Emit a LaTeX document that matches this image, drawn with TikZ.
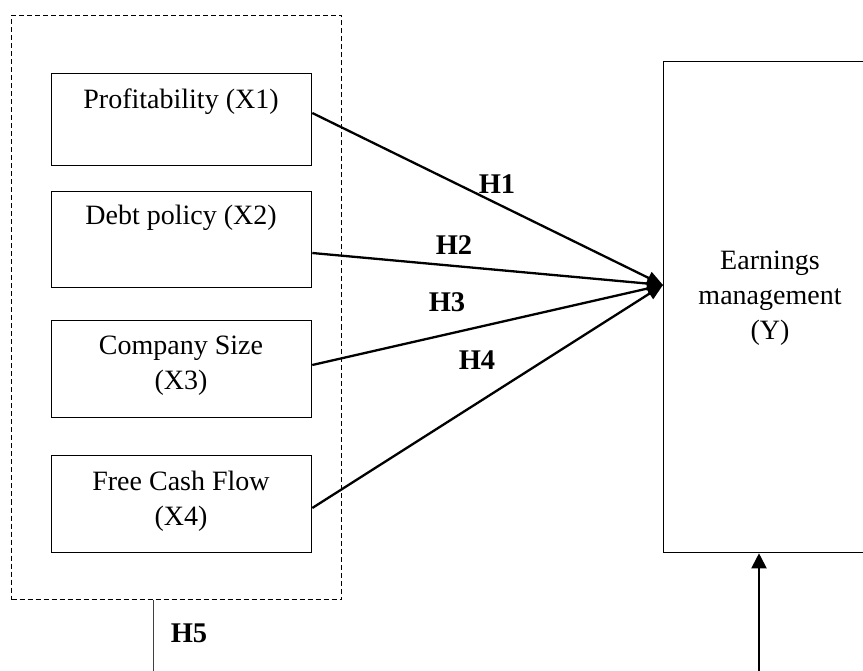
\documentclass[tikz,border=0pt]{standalone}
\usepackage{fontspec}
\setmainfont{Liberation Serif}
\usetikzlibrary{arrows.meta}
\begin{document}
\begin{tikzpicture}[x=1pt,y=-1pt,
  box/.style={draw, line width=1.3pt, minimum width=260pt, inner sep=0pt, anchor=north west},
  txt/.style={font=\fontsize{28}{35}\selectfont, align=center, inner sep=0pt},
  hyp/.style={font=\fontsize{28.5}{32}\selectfont\bfseries, inner sep=0pt},
  conn/.style={line width=2.3pt, -{Triangle[length=16pt,width=13pt]}},
]
\clip (0,0) rectangle (863,671);
\node[draw, dash pattern=on 5pt off 3pt, line width=1pt, minimum width=330pt, minimum height=584pt, inner sep=0pt, anchor=north west] (grp) at (11,15) {};
\node[box, minimum height=92pt] (p) at (51,73) {};
\node[box, minimum height=96pt] (d) at (51,191) {};
\node[box, minimum height=97pt] (c) at (51,320) {};
\node[box, minimum height=97pt] (f) at (51,455) {};
\node[draw, line width=1.3pt, minimum width=214pt, minimum height=491pt, inner sep=0pt, anchor=north west] (e) at (663,61) {};

\node[txt] (pt) at (181,102) {Profitability (X1)};
\node[txt] (dt) at (181,218) {Debt policy (X2)};
\node[txt] (ct) at (181,366) {Company Size\\(X3)};
\node[txt] (ft) at (181,501) {Free Cash Flow\\(X4)};
\node[txt] (et) at (770,298) {Earnings\\management\\(Y)};

\coordinate (tip) at (663,285);
\draw[conn] (p.east |- 0,113) -- (tip);
\draw[conn] (d.east |- 0,253) -- (tip);
\draw[conn] (c.east |- 0,365) -- (tip);
\draw[conn] (f.east |- 0,508) -- (tip);

\node[hyp] (h1) at (497,184) {H1};
\node[hyp] (h2) at (454,245) {H2};
\node[hyp] (h3) at (447,302) {H3};
\node[hyp] (h4) at (477,360) {H4};
\node[hyp] (h5) at (189,633) {H5};

\coordinate (lb) at (153,671);
\draw[line width=0.9pt, black!75] (grp.south -| lb) -- (lb);
\coordinate (rb) at (759,671);
\draw[line width=2pt, -{Triangle[length=15pt,width=15pt]}] (rb) -- (rb |- e.south);
\end{tikzpicture}
\end{document}
